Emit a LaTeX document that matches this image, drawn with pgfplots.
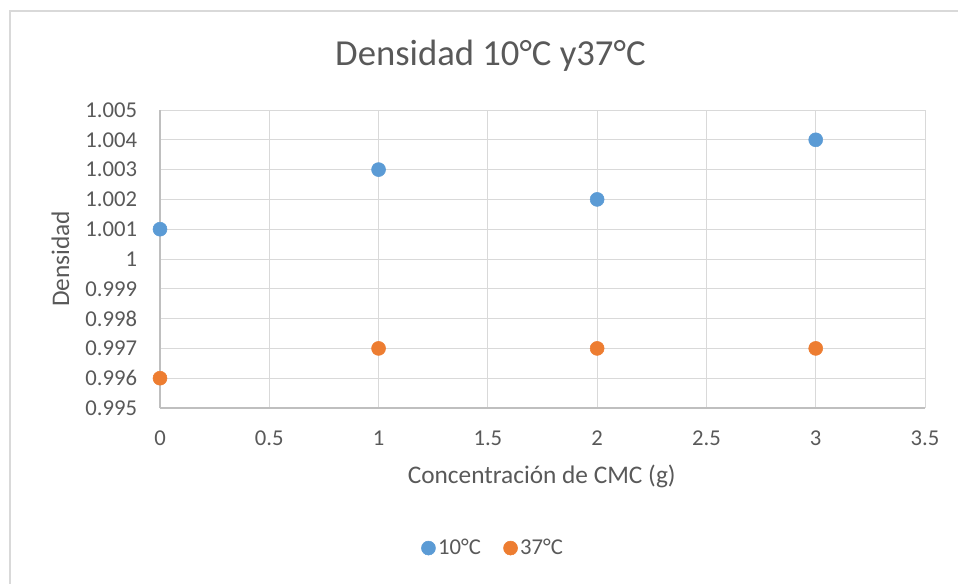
\documentclass[border=0pt]{standalone}
\usepackage{fontspec}
\setmainfont{Carlito}
\usepackage{pgfplots}
\pgfplotsset{compat=1.18}
\definecolor{cblue}{HTML}{5B9BD5}
\definecolor{corange}{HTML}{ED7D31}
\definecolor{cgrid}{HTML}{D9D9D9}
\definecolor{caxis}{HTML}{BFBFBF}
\definecolor{ctext}{HTML}{595959}
\begin{document}
\begin{tikzpicture}
\path[use as bounding box] (0,0) rectangle (718.5pt,437.25pt);
\clip (0,0) rectangle (718.5pt,437.25pt);
\draw[cgrid, line width=0.9pt] (7.5pt,-20pt) rectangle (740pt,429pt);
\node[anchor=base, inner sep=0pt, font=\fontsize{27.5}{32}\selectfont, text=ctext] at (367.8pt,387.75pt) {Densidad 10°C y37°C};
\begin{axis}[
  at={(120pt,131.25pt)}, anchor=south west,
  width=573.75pt, height=223.5pt, scale only axis,
  xmin=0, xmax=3.5, ymin=0.995, ymax=1.005,
  xtick={0,0.5,1,1.5,2,2.5,3,3.5},
  ytick={0.995,0.996,0.997,0.998,0.999,1,1.001,1.002,1.003,1.004,1.005},
  yticklabel style={/pgf/number format/fixed, /pgf/number format/precision=3},
  /pgf/number format/assume math mode=true,
  major tick length=0pt,
  grid=major,
  major grid style={cgrid, line width=0.75pt},
  axis x line*=bottom, axis y line*=left,
  axis line style={caxis, line width=0.9pt, -},
  ticklabel style={font=\fontsize{17}{20}\selectfont, text=ctext, inner sep=0pt},
  yticklabel style={xshift=-17pt},
  xticklabel style={yshift=-17pt},
  xlabel={Concentración de CMC (g)},
  xlabel style={at={(axis description cs:0.499,-0.255)}, anchor=base, font=\fontsize{19}{22}\selectfont, text=ctext, inner sep=0pt},
  ylabel={Densidad},
  ylabel style={at={(axis description cs:-0.13,0.5)}, anchor=center, font=\fontsize{19}{22}\selectfont, text=ctext, inner sep=0pt},
  legend style={at={(axis description cs:0.436,-0.47)}, anchor=center, draw=none, fill=none,
    font=\fontsize{17}{20}\selectfont, text=ctext, legend columns=2,
    /tikz/every even column/.append style={column sep=15pt}},
  legend cell align=left,
  clip=false,
]
\addplot[only marks, mark=*, mark size=5.25pt, cblue, mark options={draw=cblue, fill=cblue}]
  coordinates {(0,1.001) (1,1.003) (2,1.002) (3,1.004)};
\addlegendentry{10°C}
\addplot[only marks, mark=*, mark size=5.25pt, corange, mark options={draw=corange, fill=corange}]
  coordinates {(0,0.996) (1,0.997) (2,0.997) (3,0.997)};
\addlegendentry{37°C}
\end{axis}
\end{tikzpicture}
\end{document}
